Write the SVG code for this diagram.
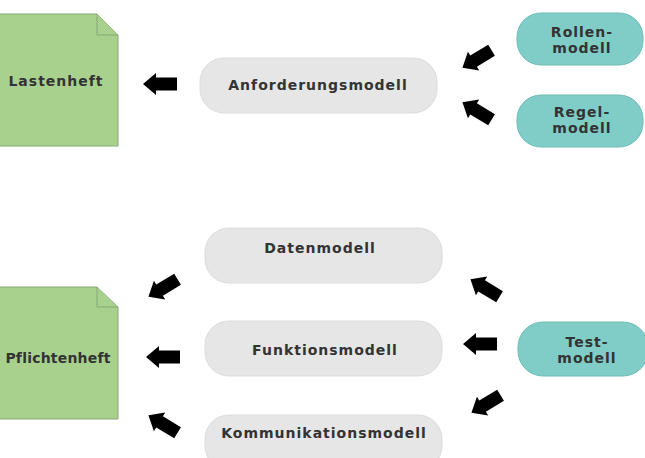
<svg xmlns="http://www.w3.org/2000/svg" xmlns:xlink="http://www.w3.org/1999/xlink" width="645" height="458" viewBox="0 0 645 458">
<style>
.doc{fill:#a9d18e;stroke:#86a777;stroke-width:1}
.fold{fill:#a9d18e;stroke:#86a777;stroke-width:1}
.gray{fill:#e6e6e6;stroke:#dcdcdc;stroke-width:1}
.teal{fill:#80ccc7;stroke:#70bdb7;stroke-width:1}
text{font-family:"DejaVu Sans","Liberation Sans",sans-serif;font-weight:bold;font-size:14px;fill:#333333;text-anchor:middle;letter-spacing:1px}
text.tight{letter-spacing:0.2px}
.arrow{fill:#000000}
</style>
<defs>
<path id="blk" d="M-17,0 L-4,-11 L-4,-6.5 L17,-6.5 L17,6.5 L-4,6.5 L-4,11 Z"/>
</defs>
<rect width="645" height="458" fill="#ffffff"/>

<g id="lastenheft">
<path class="doc" d="M-2,14 L97,14 L118,35 L118,146 L-2,146 Z"/>
<path class="fold" d="M97,14 L97,35 L118,35"/>
<text x="56" y="86">Lastenheft</text>
</g>

<g id="anforderungsmodell">
<rect class="gray" x="200" y="58" width="237" height="55" rx="24"/>
<text x="318" y="90">Anforderungsmodell</text>
</g>

<g id="rollenmodell">
<rect class="teal" x="517" y="13" width="126" height="52" rx="24"/>
<text x="582" y="37">Rollen-</text>
<text x="582" y="53">modell</text>
</g>

<g id="regelmodell">
<rect class="teal" x="517" y="95" width="126" height="52" rx="24"/>
<text x="582" y="117">Regel-</text>
<text x="582" y="133">modell</text>
</g>

<g id="pflichtenheft">
<path class="doc" d="M-2,287 L97,287 L118,307 L118,419 L-2,419 Z"/>
<path class="fold" d="M97,287 L97,307 L118,307"/>
<text class="tight" x="58" y="363">Pflichtenheft</text>
</g>

<g id="datenmodell">
<rect class="gray" x="205" y="228" width="237" height="55" rx="24"/>
<text x="320" y="253">Datenmodell</text>
</g>

<g id="funktionsmodell">
<rect class="gray" x="205" y="321" width="237" height="55" rx="24"/>
<text x="325" y="355">Funktionsmodell</text>
</g>

<g id="kommunikationsmodell">
<rect class="gray" x="205" y="415" width="237" height="55" rx="24"/>
<text x="324" y="438">Kommunikationsmodell</text>
</g>

<g id="testmodell">
<rect class="teal" x="518" y="322" width="130" height="54" rx="25"/>
<text x="587" y="347">Test-</text>
<text x="587" y="363">modell</text>
</g>

<g id="connectors" class="arrow">
<use xlink:href="#blk" transform="translate(160,84)"/>
<use xlink:href="#blk" transform="translate(477,59) rotate(-31)"/>
<use xlink:href="#blk" transform="translate(477,111) rotate(31)"/>
<use xlink:href="#blk" transform="translate(163,288) rotate(-31)"/>
<use xlink:href="#blk" transform="translate(163,357)"/>
<use xlink:href="#blk" transform="translate(163,424) rotate(31)"/>
<use xlink:href="#blk" transform="translate(485,288) rotate(31)"/>
<use xlink:href="#blk" transform="translate(480,344)"/>
<use xlink:href="#blk" transform="translate(486,404) rotate(-31)"/>
</g>
</svg>
